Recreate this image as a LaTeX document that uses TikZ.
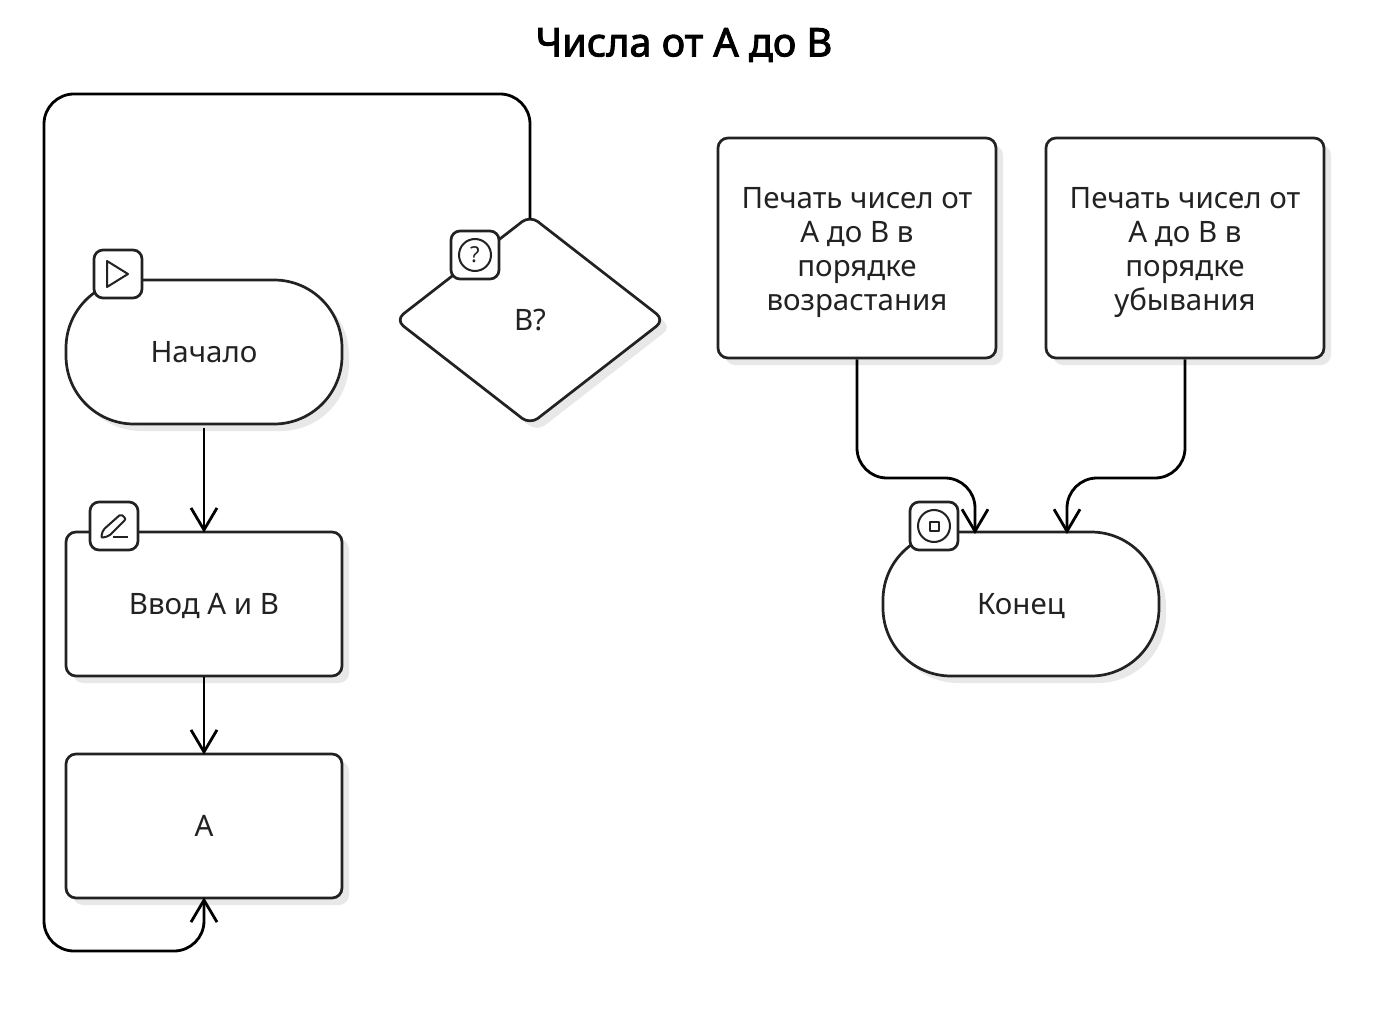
\documentclass[tikz,border=0pt]{standalone}
\usepackage{fontspec}
\setmainfont{Noto Sans}
\newfontfamily\titlefont[FakeBold=2.4]{Noto Sans}
\usetikzlibrary{arrows.meta,shapes.geometric,shadows}
\definecolor{inkline}{HTML}{222222}
\definecolor{shadowgray}{HTML}{E8E8E8}
\begin{document}
\begin{tikzpicture}[
		x=1pt,y=-1pt,
		every node/.style={font=\fontsize{29.5}{34}\selectfont,text=inkline,align=center},
		flowbox/.style={draw=inkline,line width=2.7pt,fill=white,inner sep=0pt,text height=21pt,text depth=0pt,
			general shadow={fill=shadowgray,shadow xshift=7pt,shadow yshift=-7pt}},
		procbox/.style={flowbox,rectangle,rounded corners=10pt,minimum width=276pt,minimum height=144pt},
		printbox/.style={procbox,minimum width=278pt,minimum height=220pt,text height=125pt},
		termbox/.style={flowbox,rectangle,rounded corners=68pt,minimum width=276pt,minimum height=144pt},
		choicebox/.style={flowbox,diamond,rounded corners=10pt,aspect=1.28,minimum width=270pt,minimum height=210pt},
		badge/.style={draw=inkline,line width=2.7pt,fill=white,rectangle,rounded corners=9pt,minimum size=48pt,inner sep=0pt},
		iconline/.style={draw=inkline,line width=2pt,line join=round},
		flow/.style={draw=black,line width=2.8pt,rounded corners=30pt,shorten >=-2pt,-{Straight Barb[length=22pt,width=26pt,line width=2.8pt]}},
	]
	\useasboundingbox (0,0) rectangle (1379,1032);

	\node[font=\fontsize{39.5}{44}\selectfont\titlefont,text=black] (title) at (684,45) {Числа от А до В};

	\node[termbox] (start) at (204,352) {Начало};
	\node[procbox] (input) at (204,604) {Ввод А и В};
	\node[procbox] (valuea) at (204,826) {А};
	\node[choicebox] (check) at (530,320) {В?};
	\node[printbox] (printup) at (857,248) {Печать чисел от\\А до В в\\порядке\\возрастания};
	\node[printbox] (printdown) at (1185,248) {Печать чисел от\\А до В в\\порядке\\убывания};
	\node[termbox] (finish) at (1021,604) {Конец};

	\coordinate (looptop) at (530,94);
	\coordinate (loopleft) at (44,94);
	\coordinate (loopbottom) at (44,951);
	\coordinate (loopend) at (204,951);
	\coordinate (upturn) at (857,478);
	\coordinate (upend) at (975,478);
	\coordinate (upin) at (975,532);
	\coordinate (downturn) at (1185,478);
	\coordinate (downend) at (1067,478);
	\coordinate (downin) at (1067,532);

	\draw[flow,shorten <=3pt] (start.south) -- (input.north);
	\draw[flow] (input.south) -- (valuea.north);
	\draw[flow,shorten <=-5pt] (check.north) -- (looptop) -- (loopleft) -- (loopbottom) -- (loopend) -- (valuea.south);
	\draw[flow] (printup.south) -- (upturn) -- (upend) -- (upin);
	\draw[flow] (printdown.south) -- (downturn) -- (downend) -- (downin);

	\node[badge] (startbadge) at (118,274) {};
	\node[badge] (inputbadge) at (114,526) {};
	\node[badge] (checkbadge) at (475,255) {};
	\node[badge] (finishbadge) at (934,526) {};

	\begin{scope}[shift={(startbadge.center)}]
		\draw[iconline] (-11,-13) -- (10,0) -- (-11,13) -- cycle;
	\end{scope}
	\begin{scope}[shift={(inputbadge.center)}]
		\draw[iconline,rounded corners=2pt] (-13,12) -- (-11,4) -- (7,-12) -- (12,-7) -- (-5,10) -- cycle;
		\draw[iconline] (-1,11) -- (14,11);
	\end{scope}
	\begin{scope}[shift={(checkbadge.center)}]
		\draw[iconline] (0,0) circle (16pt);
		\node[font=\fontsize{22}{22}\selectfont,inner sep=0pt] (checkmark) at (0,0) {?};
	\end{scope}
	\begin{scope}[shift={(finishbadge.center)}]
		\draw[iconline] (0,0) circle (16pt);
		\draw[iconline] (-4.5,-4.5) rectangle (4.5,4.5);
	\end{scope}
\end{tikzpicture}
\end{document}
